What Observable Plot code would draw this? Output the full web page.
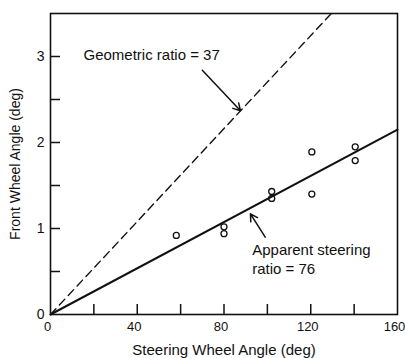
<!DOCTYPE html>
<html><head><meta charset="utf-8">
<script src="https://cdn.jsdelivr.net/npm/d3@7"></script>
<script src="https://cdn.jsdelivr.net/npm/@observablehq/plot@0.6"></script>
<style>body{margin:0;background:#fff;} svg{font-family:"Liberation Sans",Arial,sans-serif;}</style>
</head><body><div id="chart"></div>
<script>
// measured data points
const steeringAngle = [58, 80, 80, 102, 102, 120.5, 120.5, 140.5, 140.5];
const frontAngle = [0.92, 1.02, 0.94, 1.43, 1.35, 1.89, 1.40, 1.95, 1.79];
// reference lines (endpoints)
const geometricX = [0, 129.5];
const geometricY = [0, 3.5];
const apparentX = [0, 160];
const apparentY = [0, 2.15];
// tick values
const xTickLabels = [0, 40, 80, 120, 160];
const xMinorTicks = [20, 40, 60, 80, 100, 120, 140];
const yTickLabels = [0, 1, 2, 3];
const yMinorTicks = [0.5, 1, 1.5, 2, 2.5, 3];
// annotations
const noteText = ["Geometric ratio = 37", "Apparent steering\nratio = 76"];
const noteX = [15.2, 93];
const noteY = [3.03, 0.65];
const arrowX1 = [70, 99];
const arrowY1 = [2.84, 0.9];
const arrowX2 = [87.6, 92.2];
const arrowY2 = [2.37, 1.17];

const points = steeringAngle.map((x, i) => ({x, y: frontAngle[i]}));
const geo = geometricX.map((x, i) => ({x, y: geometricY[i]}));
const app = apparentX.map((x, i) => ({x, y: apparentY[i]}));
const notes = noteText.map((t, i) => ({t, x: noteX[i], y: noteY[i]}));
const arrows = arrowX1.map((x1, i) => ({x1, y1: arrowY1[i], x2: arrowX2[i], y2: arrowY2[i]}));

const chart = Plot.plot({
  width: 405, height: 358,
  marginTop: 13, marginRight: 8, marginBottom: 44, marginLeft: 50,
  style: {fontSize: "14px", fontFamily: "'Liberation Sans', Arial, sans-serif", color: "#111", background: "#fff", overflow: "visible"},
  x: {domain: [0, 160]},
  y: {domain: [0, 3.5]},
  marks: [
    Plot.frame({strokeWidth: 1.6}),
    Plot.tickX(xMinorTicks, {x: d => d, insetTop: 291, strokeWidth: 1.5}),
    Plot.tickY(yMinorTicks, {y: d => d, insetRight: 337, strokeWidth: 1.5}),
    Plot.axisX(xTickLabels, {tickSize: 0, tickPadding: 7, dx: -3, tickFormat: "d", label: null, fontSize: 13}),
    Plot.axisX({ticks: [], label: "Steering Wheel Angle (deg)", labelAnchor: "center", labelOffset: 40, labelArrow: "none", fontSize: 15, dx: -4}),
    Plot.axisY(yTickLabels, {tickSize: 0, tickPadding: 6, tickFormat: "d", label: "Front Wheel Angle (deg)", labelAnchor: "center", labelOffset: 40, labelArrow: "none", fontSize: 14}),
    Plot.line(geo, {x: "x", y: "y", stroke: "#111", strokeWidth: 1.4, strokeDasharray: "8,5"}),
    Plot.line(app, {x: "x", y: "y", stroke: "#111", strokeWidth: 2}),
    Plot.dot(points, {x: "x", y: "y", r: 3, stroke: "#111", strokeWidth: 1.3, fill: "none"}),
    Plot.arrow(arrows, {x1: "x1", y1: "y1", x2: "x2", y2: "y2", stroke: "#111", strokeWidth: 1.5, headLength: 8}),
    Plot.text(notes, {x: "x", y: "y", text: "t", textAnchor: "start", lineHeight: 1.27, fontSize: 15, fill: "#111"})
  ]
});
document.getElementById("chart").appendChild(chart);
</script>
</body></html>
